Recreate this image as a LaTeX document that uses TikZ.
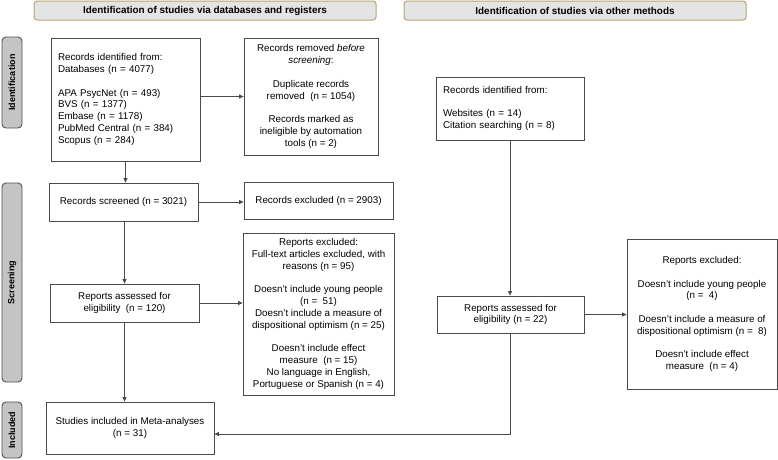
\documentclass[tikz,border=0pt]{standalone}
\usepackage{fontspec}
\setmainfont{Liberation Sans}
\usepackage{tikz}
\usetikzlibrary{positioning}
\usetikzlibrary{arrows.meta}
\definecolor{hdrfill}{HTML}{E4E4E4}
\definecolor{hdrline}{HTML}{B8A374}
\definecolor{sidefill}{HTML}{C4C4C4}
\definecolor{sideline}{HTML}{505050}
\definecolor{boxline}{HTML}{4A4A4A}
\tikzset{>={Triangle[length=4.5pt,width=4pt]}}
\tikzstyle{header}=[draw=hdrline,fill=hdrfill,line width=1pt,rounded corners=3pt,
  minimum width=342pt,minimum height=19pt,font=\fontsize{9.9}{12}\selectfont\bfseries]
\tikzstyle{side}=[draw=sideline,fill=sidefill,line width=0.9pt,rounded corners=4pt,
  minimum width=20pt,font=\fontsize{9}{11}\selectfont\bfseries]
\tikzstyle{box}=[draw=boxline,line width=0.8pt,inner sep=3pt,
  font=\fontsize{9.8}{11.8}\selectfont,align=center]
\tikzstyle{flow}=[->,boxline,line width=0.8pt]

\begin{document}
\begin{tikzpicture}[x=1pt,y=-1pt]
\useasboundingbox (0,0) rectangle (778,459);

% Headers
\node[header] (hdb) at (205,10.5) {Identification of studies via databases and registers};
\node[header] (hot) at (575,10.5) {Identification of studies via other methods};

% Phases
\node[side,minimum height=91pt] (pid) at (12,82.5) {};
\node[rotate=90,font=\fontsize{9}{11}\selectfont\bfseries] at (pid) {Identification};
\node[side,minimum height=199pt] (pscr) at (12,282.5) {};
\node[rotate=90,font=\fontsize{9}{11}\selectfont\bfseries] at (pscr) {Screening};
\node[side,minimum height=56pt] (pinc) at (12,430) {};
\node[rotate=90,font=\fontsize{9}{11}\selectfont\bfseries] at (pinc) {Included};

% Databases and registers
\node[box,align=left,text width=135pt,inner xsep=7pt,minimum height=123pt] (idL) at (125.5,99.5)
  {Records identified from:\\ Databases (n = 4077)\\[11.8pt]
   APA PsycNet (n = 493)\\ BVS (n = 1377)\\ Embase (n = 1178)\\
   PubMed Central (n = 384)\\ Scopus (n = 284)};
\node[box,minimum width=134pt,minimum height=117pt] (remL) at (311,96.5)
  {Records removed \textit{before}\\ \textit{screening}:\\[11.8pt]
   Duplicate records\\ removed~~(n = 1054)\\[11.8pt]
   Records marked as\\ ineligible by automation\\ tools (n = 2)};
\node[box,minimum width=149pt,minimum height=38pt] (scrL) at (123.5,202) {Records screened (n = 3021)};
\node[box,minimum width=149pt,minimum height=37pt] (exL) at (318.5,200.5) {Records excluded (n = 2903)};
\node[box,minimum width=149pt,minimum height=38pt] (repL) at (124.5,303)
  {Reports assessed for\\ eligibility~~(n = 120)};
\node[box,minimum width=151pt,minimum height=162pt] (rexL) at (318.5,314)
  {Reports excluded:\\ Full-text articles excluded, with\\ reasons (n = 95)\\[11.8pt]
   Doesn't include young people\\ (n = ~51)\\ Doesn't include a measure of\\
   dispositional optimism (n = 25)\\[11.8pt]
   Doesn't include effect\\ measure~~(n = 15)\\ No language in English,\\
   Portuguese or Spanish (n = 4)};
\node[box,minimum width=168pt,minimum height=52pt] (incL) at (130,428)
  {Studies included in Meta-analyses\\ (n = 31)};

% Other methods
\node[box,align=left,text width=134pt,inner xsep=7pt,minimum height=63pt] (idR) at (510,108.5)
  {Records identified from:\\[11.8pt] Websites (n = 14)\\ Citation searching (n = 8)};
\node[box,minimum width=147pt,minimum height=37pt] (repR) at (510.5,314.5)
  {Reports assessed for\\ eligibility (n = 22)};
\node[box,minimum width=150pt,minimum height=150pt] (rexR) at (702,314)
  {Reports excluded:\\[11.8pt]
   Doesn't include young people\\ (n = ~4)\\[11.8pt]
   Doesn't include a measure of\\ dispositional optimism (n = ~8)\\[11.8pt]
   Doesn't include effect\\ measure~~(n = 4)};

% Arrows
\draw[flow] (idL.south) -- (idL.south |- scrL.north);
\draw[flow] (idL.east |- remL) -- (remL.west);
\draw[flow] (scrL.east) -- (scrL.east -| exL.west);
\draw[flow] (scrL.south -| repL) -- (repL.north);
\draw[flow] (repL.east) -- (repL.east -| rexL.west);
\draw[flow] (repL.south) -- (repL.south |- incL.north);
\draw[flow] (idR.south) -- (idR.south |- repR.north);
\draw[flow] (repR.east) -- (repR.east -| rexR.west);
\draw[flow] (repR.south) |- ([yshift=-6pt]incL.east);

\end{tikzpicture}
\end{document}
